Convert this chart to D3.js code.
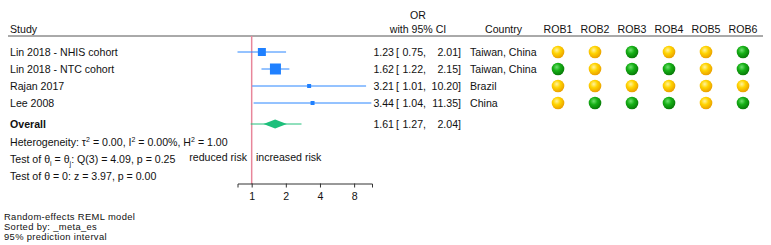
<!DOCTYPE html>
<html>
<head>
<meta charset="utf-8">
<script src="https://cdn.jsdelivr.net/npm/d3@7"></script>
<style>
  body { margin: 0; background: #fff; }
  svg text { font-family: "Liberation Sans", Arial, Helvetica, sans-serif; font-size: 10.6px; fill: #111; }
  svg text.foot { font-size: 9.4px; letter-spacing: 0.35px; }
</style>
</head>
<body>
<svg id="forest" width="771" height="245"></svg>
<script>
// data
var studies = ["Lin 2018 - NHIS cohort", "Lin 2018 - NTC cohort", "Rajan 2017", "Lee 2008"];
var or = [1.23, 1.62, 3.21, 3.44];
var lower = [0.75, 1.22, 1.01, 1.04];
var upper = [2.01, 2.15, 10.20, 11.35];
var weights = [8, 11, 4, 4]; // marker size (relative weight)
var countries = ["Taiwan, China", "Taiwan, China", "Brazil", "China"];
var robNames = ["ROB1", "ROB2", "ROB3", "ROB4", "ROB5", "ROB6"];
// Y = some concerns (yellow), G = low (green)
var rob = [
  ["Y", "Y", "G", "Y", "Y", "G"],
  ["G", "Y", "G", "G", "Y", "G"],
  ["Y", "Y", "Y", "Y", "Y", "Y"],
  ["Y", "G", "G", "G", "Y", "G"]
];
var overall = {or: 1.61, lower: 1.27, upper: 2.04, piLower: 0.98, piUpper: 2.75};
var xTicks = [1, 2, 4, 8];
var footnotes = ["Random-effects REML model", "Sorted by: _meta_es", "95% prediction interval"];

var svg = d3.select("#forest");

var x = d3.scaleLog().base(2)
  .domain([0.75, 11.5])
  .range([237.5, 372]);

var rowY = d3.scalePoint()
  .domain(studies)
  .range([52, 103]);

var overallY = 124;
var fmt = d3.format(".2f");

// gradients for risk-of-bias dots
var defs = svg.append("defs");
var grads = {Y: ["#fff3a0", "#ffd400", "#eaa000"], G: ["#70e070", "#16b016", "#087a08"]};
Object.keys(grads).forEach(function(k) {
  var g = defs.append("radialGradient").attr("id", "rob" + k)
    .attr("cx", "40%").attr("cy", "35%").attr("r", "65%");
  g.append("stop").attr("offset", "0%").attr("stop-color", grads[k][0]);
  g.append("stop").attr("offset", "45%").attr("stop-color", grads[k][1]);
  g.append("stop").attr("offset", "100%").attr("stop-color", grads[k][2]);
});

// headers
svg.append("text").attr("x", 10).attr("y", 29).attr("dy", "0.35em").text("Study");
svg.append("text").attr("x", 418).attr("y", 15).attr("dy", "0.35em").attr("text-anchor", "middle").text("OR");
svg.append("text").attr("x", 418).attr("y", 29).attr("dy", "0.35em").attr("text-anchor", "middle").text("with 95% CI");
svg.append("text").attr("x", 485).attr("y", 29).attr("dy", "0.35em").text("Country");

var robX = d3.scalePoint().domain(robNames).range([558, 743]);
svg.selectAll(".robhead")
  .data(robNames)
  .enter().append("text")
    .attr("class", "robhead")
    .attr("x", function(d) { return robX(d); })
    .attr("y", 29).attr("dy", "0.35em")
    .attr("text-anchor", "middle")
    .text(function(d) { return d; });

svg.append("line")
  .attr("x1", 8).attr("x2", 763).attr("y1", 36).attr("y2", 36)
  .attr("stroke", "#555").attr("stroke-width", 1);

// reference line at OR = 1
svg.append("line")
  .attr("x1", x(1)).attr("x2", x(1)).attr("y1", 36).attr("y2", 184)
  .attr("stroke", "#e8869a").attr("stroke-width", 1.5);

// study rows
var rows = svg.selectAll(".row")
  .data(studies)
  .enter().append("g")
    .attr("class", "row")
    .attr("transform", function(d) { return "translate(0," + rowY(d) + ")"; });

rows.append("text").attr("x", 10).attr("dy", "0.35em").text(function(d) { return d; });

rows.append("line")
  .attr("x1", function(d, i) { return x(lower[i]); })
  .attr("x2", function(d, i) { return x(upper[i]); })
  .attr("stroke", "#2a86ff").attr("stroke-width", 1);

rows.append("rect")
  .attr("x", function(d, i) { return x(or[i]) - weights[i] / 2; })
  .attr("y", function(d, i) { return -weights[i] / 2; })
  .attr("width", function(d, i) { return weights[i]; })
  .attr("height", function(d, i) { return weights[i]; })
  .attr("fill", "#1f80ff");

rows.append("text").attr("x", 394).attr("dy", "0.35em").attr("text-anchor", "end")
  .text(function(d, i) { return fmt(or[i]); });
rows.append("text").attr("x", 396).attr("dy", "0.35em").text("[");
rows.append("text").attr("x", 426).attr("dy", "0.35em").attr("text-anchor", "end")
  .text(function(d, i) { return fmt(lower[i]) + ","; });
rows.append("text").attr("x", 461).attr("dy", "0.35em").attr("text-anchor", "end")
  .text(function(d, i) { return fmt(upper[i]) + "]"; });
rows.append("text").attr("x", 470).attr("dy", "0.35em").text(function(d, i) { return countries[i]; });

rows.selectAll("circle")
  .data(function(d, i) { return rob[i].map(function(v, j) { return {key: robNames[j], value: v}; }); })
  .enter().append("circle")
    .attr("cx", function(d) { return robX(d.key); })
    .attr("r", 6.3)
    .attr("fill", function(d) { return "url(#rob" + d.value + ")"; });

// overall
var ov = svg.append("g").attr("transform", "translate(0," + overallY + ")");
ov.append("text").attr("x", 10).attr("dy", "0.35em").attr("font-weight", "bold").text("Overall");
ov.append("line")
  .attr("x1", x(overall.piLower)).attr("x2", x(overall.piUpper))
  .attr("stroke", "#22c07a").attr("stroke-width", 1);
ov.append("path")
  .attr("d", "M" + x(overall.lower) + ",0L" + x(overall.or) + ",-4.5L" + x(overall.upper) + ",0L" + x(overall.or) + ",4.5Z")
  .attr("fill", "#1dbf7b");
ov.append("text").attr("x", 394).attr("dy", "0.35em").attr("text-anchor", "end").text(fmt(overall.or));
ov.append("text").attr("x", 396).attr("dy", "0.35em").text("[");
ov.append("text").attr("x", 426).attr("dy", "0.35em").attr("text-anchor", "end").text(fmt(overall.lower) + ",");
ov.append("text").attr("x", 461).attr("dy", "0.35em").attr("text-anchor", "end").text(fmt(overall.upper) + "]");

// heterogeneity and tests
var het = svg.append("text").attr("x", 10).attr("y", 142).attr("dy", "0.35em");
het.append("tspan").text("Heterogeneity: \u03c4");
het.append("tspan").attr("dy", "-4").attr("font-size", "7px").text("2");
het.append("tspan").attr("dy", "4").text(" = 0.00, I");
het.append("tspan").attr("dy", "-4").attr("font-size", "7px").text("2");
het.append("tspan").attr("dy", "4").text(" = 0.00%, H");
het.append("tspan").attr("dy", "-4").attr("font-size", "7px").text("2");
het.append("tspan").attr("dy", "4").text(" = 1.00");

var q = svg.append("text").attr("x", 10).attr("y", 159).attr("dy", "0.35em");
q.append("tspan").text("Test of \u03b8");
q.append("tspan").attr("dy", "3").attr("font-size", "7px").text("i");
q.append("tspan").attr("dy", "-3").text(" = \u03b8");
q.append("tspan").attr("dy", "3").attr("font-size", "7px").text("j");
q.append("tspan").attr("dy", "-3").text(": Q(3) = 4.09, p = 0.25");

svg.append("text").attr("x", 10).attr("y", 176).attr("dy", "0.35em")
  .text("Test of \u03b8 = 0: z = 3.97, p = 0.00");

svg.append("text").attr("x", 247).attr("y", 157).attr("dy", "0.35em").attr("text-anchor", "end").text("reduced risk");
svg.append("text").attr("x", 256).attr("y", 157).attr("dy", "0.35em").text("increased risk");

// x axis
var axis = svg.append("g")
  .attr("transform", "translate(0,183.5)")
  .call(d3.axisBottom(x).tickValues(xTicks).tickFormat(d3.format("d")).tickSizeOuter(0).tickSize(4));
axis.select(".domain").attr("stroke", "#333");
axis.selectAll(".tick line").attr("stroke", "#333");
axis.selectAll(".tick text")
  .attr("font-family", "Liberation Sans, Arial, sans-serif")
  .attr("font-size", "10.6px").attr("fill", "#111").attr("dy", "0.9em");

// footnotes
svg.selectAll(".foot")
  .data(footnotes)
  .enter().append("text")
    .attr("class", "foot")
    .attr("x", 4)
    .attr("y", function(d, i) { return 216.5 + i * 10.3; })
    .attr("dy", "0.35em")
    .text(function(d) { return d; });
</script>
</body>
</html>
